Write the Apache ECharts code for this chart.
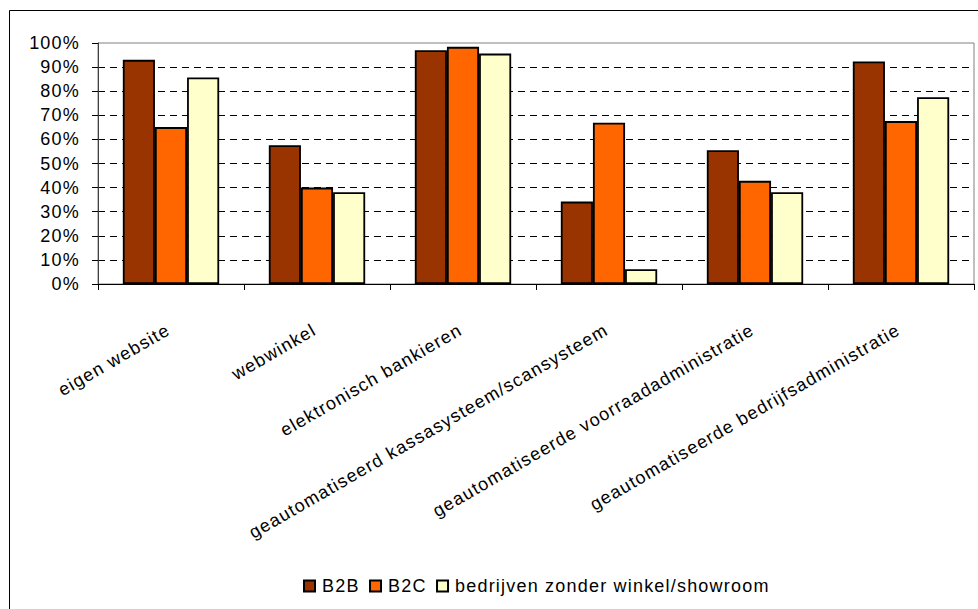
<!DOCTYPE html>
<html>
<head>
<meta charset="utf-8">
<script src="https://cdn.jsdelivr.net/npm/echarts@6/dist/echarts.min.js"></script>
<style>
  html, body { margin: 0; padding: 0; background: #fff; }
  #chart { width: 978px; height: 609px; }
  /* slightly open lettering for every label */
  #chart text { letter-spacing: 1.2px; }
</style>
</head>
<body>
<div id="chart"></div>
<script>
// Categories along the x axis
const categories = [
  'eigen website',
  'webwinkel',
  'elektronisch bankieren',
  'geautomatiseerd kassasysteem/scansysteem',
  'geautomatiseerde voorraadadministratie',
  'geautomatiseerde bedrijfsadministratie'
];

// Share of companies (%) per group
const seriesNames = ['B2B', 'B2C', 'bedrijven zonder winkel/showroom'];
const b2b = [93.0, 57.6, 97.0, 34.2, 55.5, 92.3];
const b2c = [65.1, 40.0, 98.4, 66.9, 42.8, 67.6];
const zonderWinkel = [85.7, 38.1, 95.6, 6.1, 38.1, 77.5];

// Value axis ticks
const yMin = 0, yMax = 100, yStep = 10;

const colors = ['#993300', '#FF6600', '#FFFFCC'];
const font = 'Liberation Sans, Arial, sans-serif';

const chart = echarts.init(document.getElementById('chart'), null, { renderer: 'svg' });

function barSeries(name, data, color) {
  return {
    name: name,
    type: 'bar',
    data: data,
    barGap: '0%',
    barCategoryGap: '34%',
    itemStyle: { color: color, borderColor: '#000', borderWidth: 1.8 },
    emphasis: { disabled: true }
  };
}

chart.setOption({
  backgroundColor: '#fff',
  animation: false,
  textStyle: { fontFamily: font },
  graphic: [{
    type: 'rect',
    shape: { x: 9.5, y: 10.5, width: 1000, height: 700 },
    style: { fill: 'none', stroke: '#000', lineWidth: 1 },
    silent: true
  }],
  grid: {
    left: 98, right: 4, top: 43, bottom: 325,
    show: true, borderColor: '#808080', borderWidth: 1, backgroundColor: '#fff'
  },
  legend: {
    left: 298, top: 572,
    itemWidth: 11, itemHeight: 11, itemGap: 13,
    icon: 'rect',
    textStyle: { fontSize: 18, color: '#000', fontFamily: font, padding: [0, 0, 0, 2] },
    data: seriesNames
  },
  xAxis: {
    type: 'category',
    data: categories,
    axisLine: { lineStyle: { color: '#000', width: 1 } },
    axisTick: { show: true, length: 6, lineStyle: { color: '#000' } },
    axisLabel: {
      rotate: 30, interval: 0, margin: 43,
      fontSize: 18, color: '#000', fontFamily: font, padding: [0, 3, 0, 0]
    },
    splitLine: { show: false }
  },
  yAxis: {
    type: 'value',
    min: yMin, max: yMax, interval: yStep,
    axisLine: { show: true, lineStyle: { color: '#404040', width: 1 } },
    axisTick: { show: true, length: 6, lineStyle: { color: '#000' } },
    axisLabel: {
      formatter: '{value}%', margin: 18,
      fontSize: 18, color: '#000', fontFamily: font
    },
    splitLine: {
      show: true, showMinLine: false, showMaxLine: false,
      lineStyle: { color: '#000', width: 1, type: [7, 5] }
    }
  },
  series: [
    barSeries(seriesNames[0], b2b, colors[0]),
    barSeries(seriesNames[1], b2c, colors[1]),
    barSeries(seriesNames[2], zonderWinkel, colors[2])
  ]
});
</script>
</body>
</html>
